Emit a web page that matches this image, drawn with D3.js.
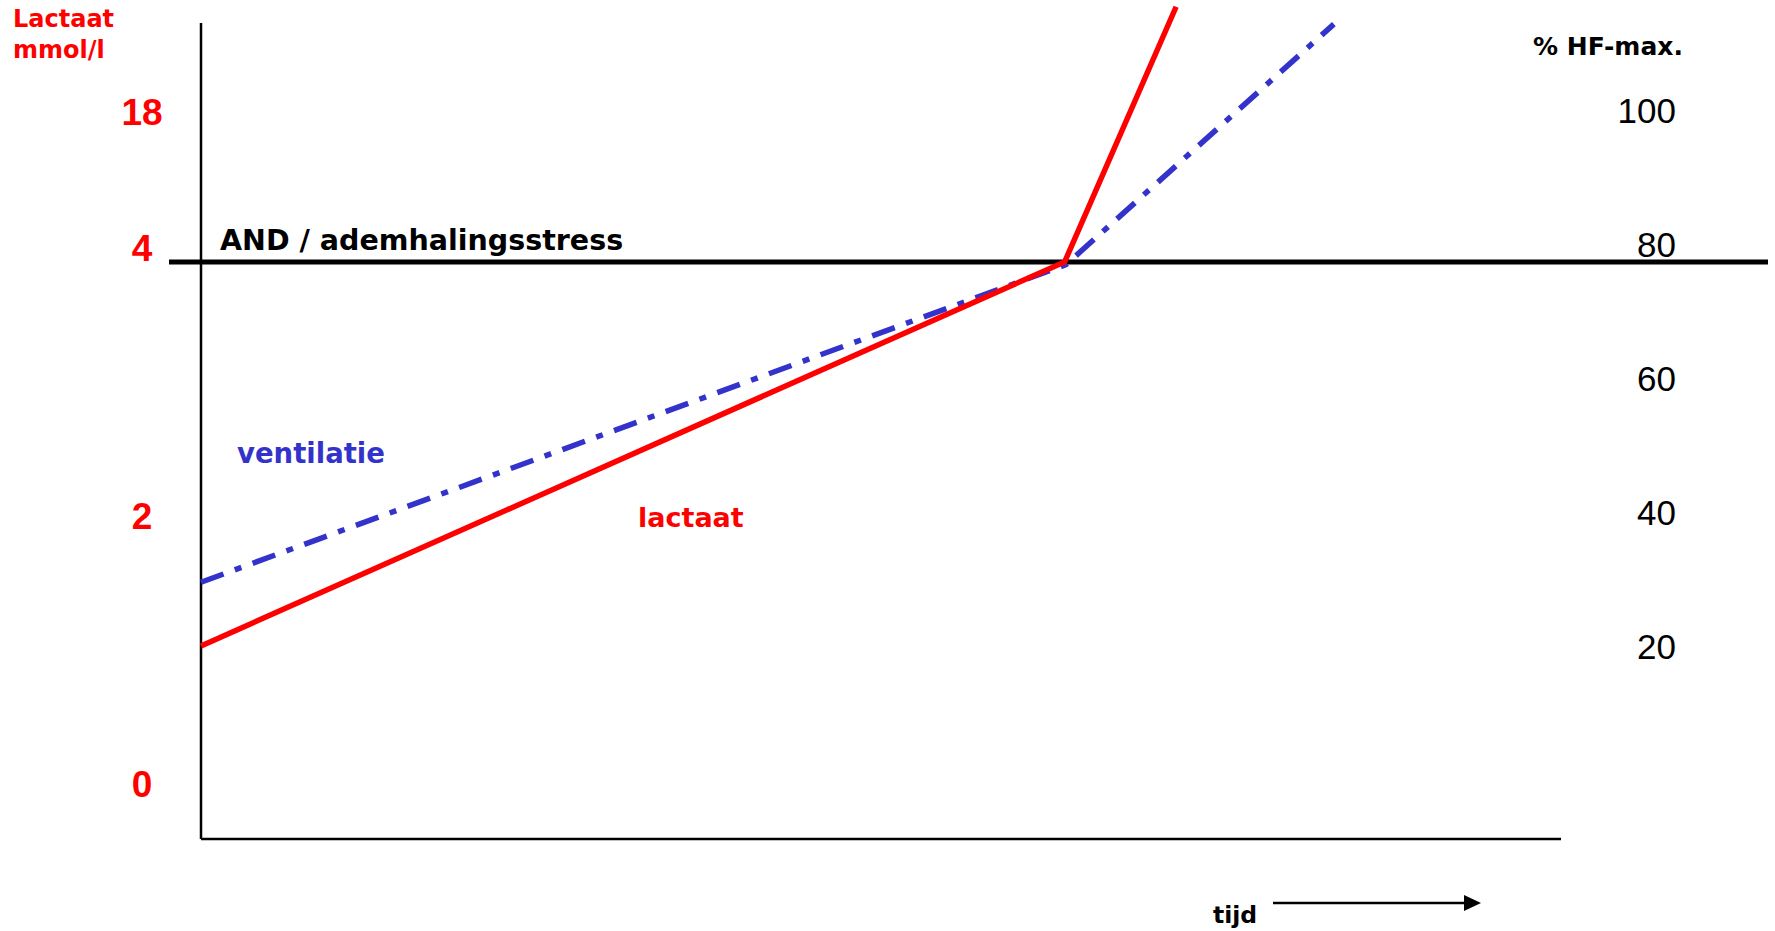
<!DOCTYPE html>
<html>
<head>
<meta charset="utf-8">
<script src="https://cdn.jsdelivr.net/npm/d3@7"></script>
<style>
  body { margin: 0; background: #fff; }
  #chart { width: 1775px; height: 931px; }
  .lbl { font-family: "DejaVu Sans", sans-serif; font-weight: bold; }
</style>
</head>
<body>
<div id="chart"></div>
<script>
// tick values
const lactaatTicks = [0, 2, 4, 18];
const hfTicks = [20, 40, 60, 80, 100];
// lactaat curve (tijd %, % HF-max)
const lactaatTijd = [0, 63.5, 71.7];
const lactaatWaarde = [22.7, 80, 118.1];
// ventilatie curve (tijd %, % HF-max)
const ventTijd = [0, 63.6, 83.3];
const ventWaarde = [32.2, 79.6, 115.5];
// AND threshold (mmol/l)
const drempel = 4;

function drawChart() {
    const container = d3.select('#chart');
    container.html('');

    const svg = container.append('svg')
        .attr('width', 1775)
        .attr('height', 931);

    const x = d3.scaleLinear()
        .domain([0, 100])
        .range([201, 1561]);

    const yHF = d3.scaleLinear()
        .domain([0, 100])
        .range([798, 128]);

    // lactate axis is not linear: ticks sit on HF 0/40/80/100
    const yL = d3.scaleLinear()
        .domain(lactaatTicks)
        .range([yHF(0), yHF(40), yHF(80), yHF(100)]);

    // axes lines
    svg.append('line')
        .attr('x1', x(0)).attr('x2', x(0))
        .attr('y1', 23).attr('y2', 839)
        .attr('stroke', '#000').attr('stroke-width', 2.5);
    svg.append('line')
        .attr('x1', x(0)).attr('x2', x(100))
        .attr('y1', 839).attr('y2', 839)
        .attr('stroke', '#000').attr('stroke-width', 2.5);

    // left axis (lactaat)
    const left = svg.append('g')
        .attr('transform', 'translate(142,0)')
        .call(d3.axisLeft(yL).tickValues(lactaatTicks).tickSize(0).tickFormat(d3.format('d')));
    left.select('.domain').remove();
    left.selectAll('text')
        .attr('x', 0)
        .attr('dy', d => d === 18 ? -4 : -2)
        .attr('text-anchor', 'middle')
        .attr('fill', '#ff0000')
        .style('font-family', '"Liberation Sans", Arial, sans-serif')
        .style('font-weight', 'bold')
        .style('font-size', '37px');

    // right axis (% HF-max)
    const right = svg.append('g')
        .attr('transform', 'translate(1676,0)')
        .call(d3.axisRight(yHF).tickValues(hfTicks).tickSize(0));
    right.select('.domain').remove();
    right.selectAll('text')
        .attr('x', 0)
        .attr('dy', -6)
        .attr('text-anchor', 'end')
        .attr('fill', '#000')
        .style('font-family', '"Liberation Sans", Arial, sans-serif')
        .style('font-size', '35px');

    // AND line
    svg.append('line')
        .attr('x1', 169).attr('x2', 1768)
        .attr('y1', yL(drempel)).attr('y2', yL(drempel))
        .attr('stroke', '#000').attr('stroke-width', 5);

    const line = d3.line()
        .x(d => x(d[0]))
        .y(d => yHF(d[1]));

    svg.append('path')
        .datum(ventTijd.map((t, i) => [t, ventWaarde[i]]))
        .attr('d', line)
        .attr('fill', 'none')
        .attr('stroke', '#3333cc')
        .attr('stroke-width', 5.5)
        .attr('stroke-dasharray', '24,12,7,12');

    svg.append('path')
        .datum(lactaatTijd.map((t, i) => [t, lactaatWaarde[i]]))
        .attr('d', line)
        .attr('fill', 'none')
        .attr('stroke', '#ff0000')
        .attr('stroke-width', 5.5);

    // texts
    svg.append('text').attr('class', 'lbl')
        .attr('x', 13).attr('y', 27)
        .attr('fill', '#ff0000').style('font-size', '24px')
        .text('Lactaat');
    svg.append('text').attr('class', 'lbl')
        .attr('x', 13).attr('y', 58)
        .attr('fill', '#ff0000').style('font-size', '24px')
        .text('mmol/l');

    svg.append('text').attr('class', 'lbl')
        .attr('x', 1533).attr('y', 55)
        .attr('fill', '#000').style('font-size', '25px')
        .text('% HF-max.');

    svg.append('text').attr('class', 'lbl')
        .attr('x', 220).attr('y', 250)
        .attr('fill', '#000').style('font-size', '28.5px')
        .text('AND / ademhalingsstress');

    svg.append('text').attr('class', 'lbl')
        .attr('x', 237).attr('y', 463)
        .attr('fill', '#3333cc').style('font-size', '27.5px')
        .text('ventilatie');

    svg.append('text').attr('class', 'lbl')
        .attr('x', 638).attr('y', 527)
        .attr('fill', '#ff0000').style('font-size', '27px')
        .text('lactaat');

    svg.append('text').attr('class', 'lbl')
        .attr('x', 1213).attr('y', 923)
        .attr('fill', '#000').style('font-size', '23.5px')
        .text('tijd');

    // tijd arrow
    svg.append('line')
        .attr('x1', 1273).attr('x2', 1468)
        .attr('y1', 903).attr('y2', 903)
        .attr('stroke', '#000').attr('stroke-width', 2.5);
    svg.append('path')
        .attr('d', 'M1464,895 L1481,903 L1464,911 Z')
        .attr('fill', '#000');
}

drawChart();
</script>
</body>
</html>
